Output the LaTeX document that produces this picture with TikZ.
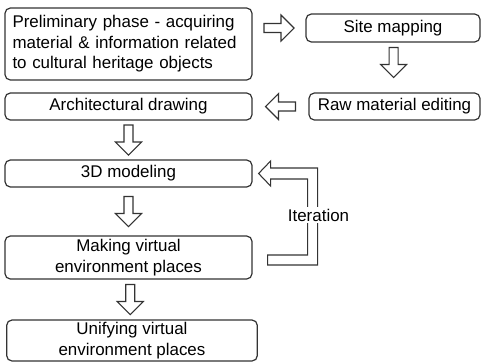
\documentclass[tikz,border=0pt]{standalone}
\usepackage{fontspec}
\setmainfont{Liberation Sans}
\usetikzlibrary{calc}
\begin{document}
\begin{tikzpicture}[x=0.75pt,y=-0.75pt,
  box/.style={draw=black!80, rounded corners=4pt, line width=0.9pt, align=center, inner sep=0pt,
    font=\fontsize{12.7}{15.3}\selectfont},
  barrow/.style={draw=black!80, line width=0.8pt, fill=white, line join=miter},
  blockarrow/.pic={\draw[barrow] (-15,-4.5) -- (2,-4.5) -- (2,-13) -- (15,0) -- (2,13) -- (2,4.5) -- (-15,4.5) -- cycle;}]
\useasboundingbox[fill=white] (0,0) rectangle (482,362);
% boxes
\node[box, minimum width=185.25pt, minimum height=54pt, text width=174pt, align=left] (prelim) at (128.5,44)
  {Preliminary phase - acquiring\\ material \& information related\\ to cultural heritage objects};
\node[box, minimum width=130.5pt, minimum height=21pt] (site) at (393,28) {Site mapping};
\node[box, minimum width=128.25pt, minimum height=20.25pt] (raw) at (394.5,106.5) {Raw material editing};
\node[box, minimum width=185.25pt, minimum height=20.25pt] (arch) at (128.5,106.5) {Architectural drawing};
\node[box, minimum width=185.25pt, minimum height=20.25pt] (model) at (128.5,173.5) {3D modeling};
\node[box, minimum width=185.25pt, minimum height=32.25pt] (making) at (128.5,257.5) {Making virtual\\ environment places};
\node[box, minimum width=188pt, minimum height=30.75pt] (unify) at (132,340.5) {Unifying virtual\\ environment places};
% block arrows
\pic at ($(prelim.east |- site.west)!0.5!(site.west)$) {blockarrow};
\pic[rotate=-90] at ($(site.south)!0.4!(raw.north)$) {blockarrow};
\pic[rotate=180] at ($(arch.east)!0.5!(raw.west)$) {blockarrow};
\pic[rotate=-90] at ($(arch.south)!0.5!(model.north)$) {blockarrow};
\pic[rotate=-90] at ($(model.south)!0.5!(making.north)$) {blockarrow};
\pic[rotate=-90] at ($(making.south)!0.5!(unify.north)$) {blockarrow};
% iteration arrow
\coordinate (T) at ($(model.east)+(6,0)$);
\coordinate (B) at ($(making.east)+(15,2.5)$);
\draw[barrow] (T) -- ($(T)+(12,-12.5)$) -- ($(T)+(12,-5.5)$) -- ($(T)+(59,-5.5)$)
  |- ($(B)+(0,5)$) -- ($(B)+(0,-5)$) -| ($(T)+(49,5.5)$) -- ($(T)+(12,5.5)$) -- ($(T)+(12,12.5)$) -- cycle;
\node[fill=white, inner sep=1pt, font=\fontsize{12.7}{15.3}\selectfont] (iter) at (318.5,215) {Iteration};
\end{tikzpicture}
\end{document}
